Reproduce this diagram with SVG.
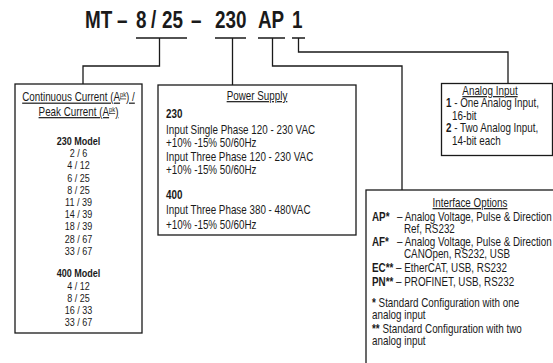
<svg xmlns="http://www.w3.org/2000/svg" width="553" height="363" viewBox="0 0 553 363">
<style>
text{font-family:"Liberation Sans","Arial",sans-serif;fill:#1a1a1a;font-size:12px}
.t{font-size:23px;font-weight:bold}
.b{font-weight:bold}
.s{font-size:11px}
.c{text-anchor:middle}
.u{text-decoration:underline}
.box{fill:#fff;stroke:#1a1a1a;stroke-width:1.3}
.ln{fill:none;stroke:#1a1a1a;stroke-width:1.3}
</style>
<rect width="553" height="363" fill="#fff"/>
<g id="title">
<g transform="scale(0.82 1)">
<text class="t" y="28"><tspan x="103.66">MT</tspan><tspan x="142.68">–</tspan><tspan x="165.85">8</tspan><tspan x="184.15">/</tspan><tspan x="197.56">25</tspan><tspan x="232.93">–</tspan><tspan x="262.2">230</tspan><tspan x="314.63">AP</tspan><tspan x="356.1">1</tspan></text>
</g>
</g>
<g id="connectors">
<path class="ln" d="M136 38H187M159.5 38V66H83V84"/>
<path class="ln" d="M215 38H246M232.5 38V85"/>
<path class="ln" d="M258 38H285M272.5 38V66H402V190"/>
<path class="ln" d="M292 38H305M298.5 38V52H508V83.5"/>
</g>
<g id="current">
<rect class="box" x="15" y="84" width="127" height="249"/>
<g transform="scale(0.82 1)">
<text class="c u" x="95.73" y="101.5">Continuous Current (A<tspan font-size="7" dy="-4">pk</tspan><tspan dy="4">) /</tspan></text>
<text class="c u" x="95.73" y="116">Peak Current (A<tspan font-size="7" dy="-4">pk</tspan><tspan dy="4">)</tspan></text>
<text class="c s b" x="95.73" y="145">230 Model</text>
<text class="c s" x="95.73" y="157.2">2 / 6</text>
<text class="c s" x="95.73" y="169.4">4 / 12</text>
<text class="c s" x="95.73" y="181.6">6 / 25</text>
<text class="c s" x="95.73" y="193.8">8 / 25</text>
<text class="c s" x="95.73" y="206">11 / 39</text>
<text class="c s" x="95.73" y="218.2">14 / 39</text>
<text class="c s" x="95.73" y="230.4">18 / 39</text>
<text class="c s" x="95.73" y="242.6">28 / 67</text>
<text class="c s" x="95.73" y="254.8">33 / 67</text>
<text class="c s b" x="95.73" y="277.5">400 Model</text>
<text class="c s" x="95.73" y="289.7">4 / 12</text>
<text class="c s" x="95.73" y="301.9">8 / 25</text>
<text class="c s" x="95.73" y="314.1">16 / 33</text>
<text class="c s" x="95.73" y="326.3">33 / 67</text>
</g>
</g>
<g id="power">
<rect class="box" x="158" y="85" width="198" height="150"/>
<g transform="scale(0.82 1)">
<text class="c u" x="313.41" y="100">Power Supply</text>
<text class="b" x="202.44" y="118" font-size="14">230</text>
<text x="202.44" y="134">Input Single Phase 120 - 230 VAC</text>
<text x="202.44" y="147">+10% -15% 50/60Hz</text>
<text x="202.44" y="161">Input Three Phase 120 - 230 VAC</text>
<text x="202.44" y="174">+10% -15% 50/60Hz</text>
<text class="b" x="202.44" y="199" font-size="14">400</text>
<text x="202.44" y="214">Input Three Phase 380 - 480VAC</text>
<text x="202.44" y="229">+10% -15% 50/60Hz</text>
</g>
</g>
<g id="analog">
<rect class="box" x="441.5" y="83.5" width="111" height="72"/>
<g transform="scale(0.82 1)">
<text class="c u" x="597.56" y="95">Analog Input</text>
<text x="543.9" y="107.5"><tspan class="b">1</tspan> - One Analog Input,</text>
<text x="551.22" y="120">16-bit</text>
<text x="543.9" y="132.5"><tspan class="b">2</tspan> - Two Analog Input,</text>
<text x="551.22" y="145">14-bit each</text>
</g>
</g>
<g id="interface">
<rect class="box" x="366" y="190" width="200" height="190"/>
<g transform="scale(0.82 1)">
<text class="c u" x="573.17" y="207">Interface Options</text>
<text y="221"><tspan class="b" x="453.66">AP*</tspan><tspan x="484.15">– Analog Voltage, Pulse &amp; Direction</tspan></text>
<text x="492.68" y="233">Ref, RS232</text>
<text y="246"><tspan class="b" x="453.66">AF*</tspan><tspan x="484.15">– Analog Voltage, Pulse &amp; Direction</tspan></text>
<text x="492.68" y="258">CANOpen, RS232, USB</text>
<text x="453.66" y="272"><tspan class="b">EC**</tspan> – EtherCAT, USB, RS232</text>
<text x="453.66" y="286"><tspan class="b">PN**</tspan> – PROFINET, USB, RS232</text>
<text x="453.66" y="307"><tspan class="b">*</tspan> Standard Configuration with one</text>
<text x="453.66" y="319">analog input</text>
<text x="453.66" y="333"><tspan class="b">**</tspan> Standard Configuration with two</text>
<text x="453.66" y="345">analog input</text>
</g>
</g>
</svg>
